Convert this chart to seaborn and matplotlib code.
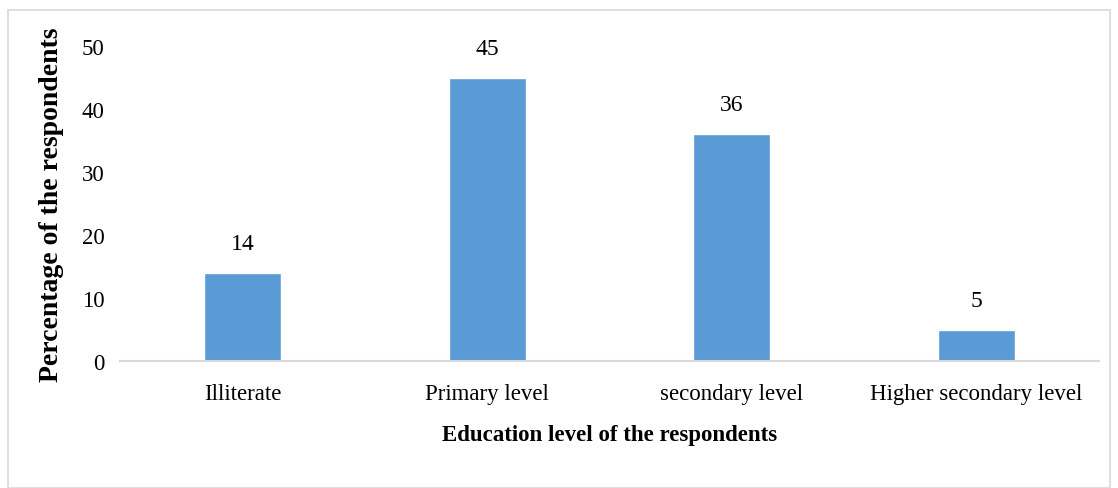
import matplotlib
matplotlib.use("Agg")
import matplotlib.pyplot as plt
import seaborn as sns
import pandas as pd
from matplotlib.patches import Rectangle

categories = ["Illiterate", "Primary level", "secondary level", "Higher secondary level"]
values = [14, 45, 36, 5]
yticks = [0, 10, 20, 30, 40, 50]

sns.set_theme(style="white")
plt.rcParams['font.family'] = ['Liberation Serif', 'DejaVu Serif']
plt.rcParams['text.color'] = 'black'
plt.rcParams['axes.labelcolor'] = 'black'

df = pd.DataFrame({"cat": categories, "val": values})

fig = plt.figure(figsize=(11.18, 4.89), dpi=100)
ax = fig.add_axes([120/1118, 1 - 362/489, (1099-120)/1118, (362-47)/489])
sns.barplot(data=df, x="cat", y="val", color="#5B9BD5", width=0.315, ax=ax, saturation=1)

ax.set_ylim(0, 50)
ax.set_yticks(yticks)
ax.set_xlim(-0.5, 3.5)
for s in ["top", "right", "left"]:
    ax.spines[s].set_visible(False)
ax.spines["bottom"].set_color("#D9D9D9")
ax.spines["bottom"].set_linewidth(1.5)
ax.tick_params(axis="both", length=0, labelsize=16.5, colors="black")
ax.tick_params(axis="y", pad=11)
ax.tick_params(axis="x", pad=16)

for i, v in enumerate(values):
    ax.text(i, v + 3.0, str(v), ha="center", va="bottom", fontsize=17, color="black", clip_on=False)

ax.set_xlabel("Education level of the respondents", fontsize=16.5, fontweight="bold", labelpad=14, color="black")
ax.set_ylabel("Percentage of the respondents", fontsize=20, fontweight="bold", labelpad=13, color="black")

fig.patches.append(Rectangle((8/1118, 0), (1110-8)/1118, 1 - 11/489, transform=fig.transFigure,
                             fill=False, edgecolor="#D9D9D9", linewidth=1.2))

fig.savefig("out.png", dpi=100)
